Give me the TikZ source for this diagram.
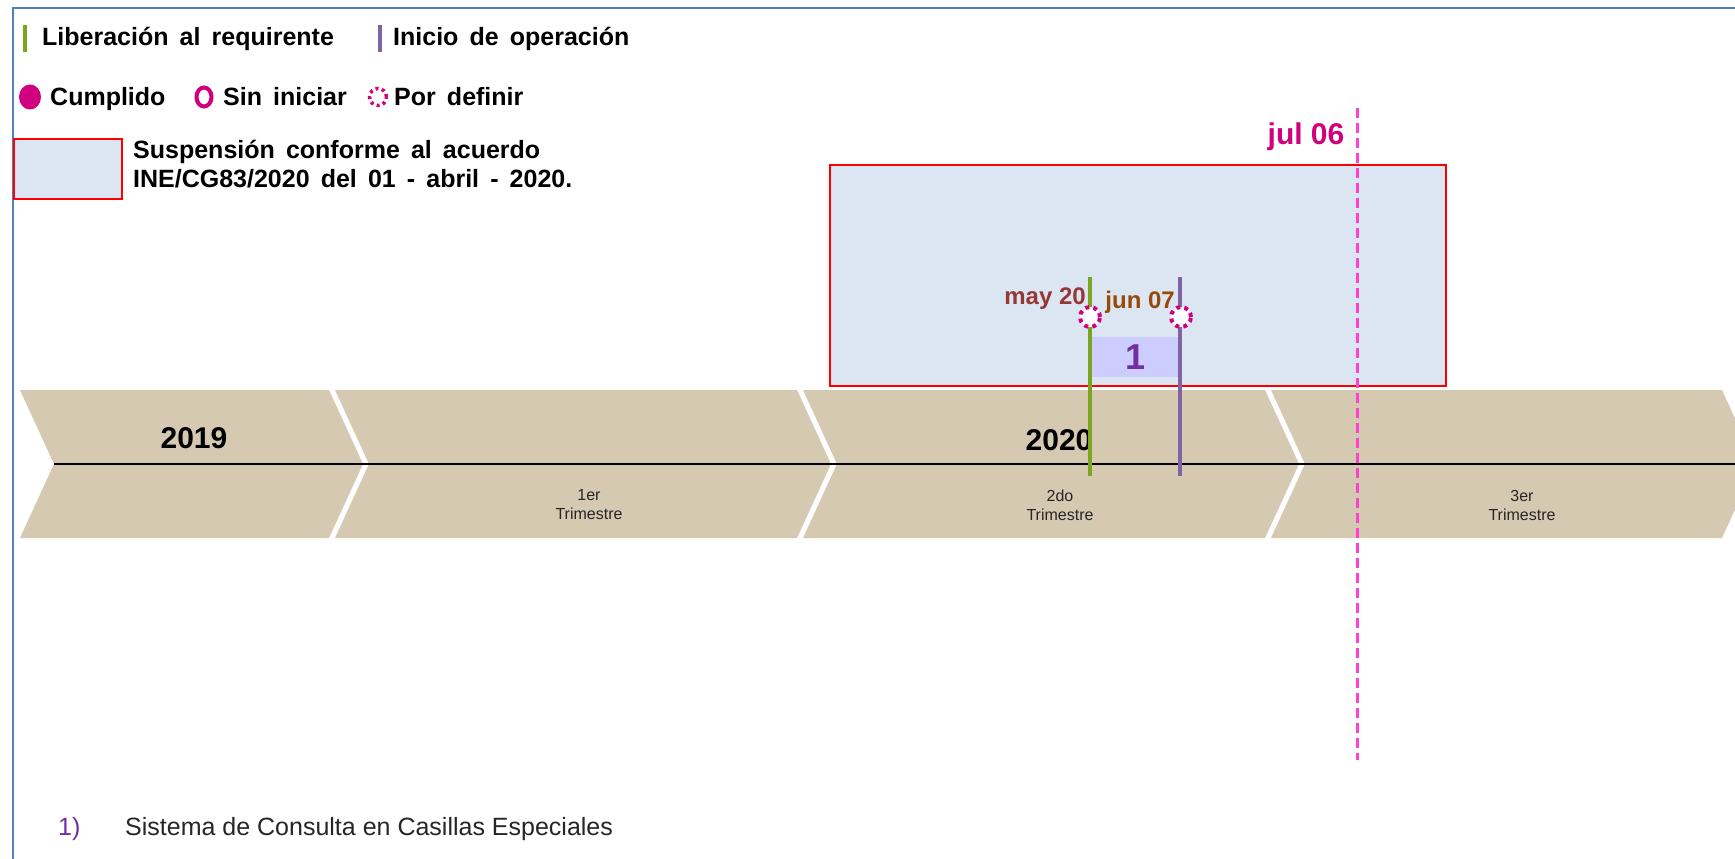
\documentclass[tikz,border=0pt]{standalone}
\usepackage{fontspec}
\setmainfont{Liberation Sans}
\newfontfamily\legendfont[WordSpace=1.6]{Liberation Sans}
\usetikzlibrary{positioning,shapes.geometric}

\definecolor{chevtan}{RGB}{214,201,178}
\definecolor{suspblue}{RGB}{220,230,242}
\definecolor{mag}{RGB}{208,0,126}
\definecolor{pinkdash}{RGB}{255,64,208}
\definecolor{libgreen}{RGB}{122,165,30}
\definecolor{opviolet}{RGB}{128,100,162}
\definecolor{maycol}{RGB}{149,55,53}
\definecolor{juncol}{RGB}{152,72,7}
\definecolor{numviolet}{RGB}{112,48,160}
\definecolor{numfill}{RGB}{204,204,255}
\definecolor{frameblue}{RGB}{79,129,189}

\tikzset{
  lbl/.style={font=\legendfont\bfseries\fontsize{25}{29}\selectfont, inner sep=0pt, anchor=west},
  yearlbl/.style={font=\bfseries\fontsize{30}{34}\selectfont, inner sep=0pt},
  qtrlbl/.style={font=\fontsize{16}{19}\selectfont, align=center, text=black!85, inner sep=0pt},
  datelbl/.style={font=\bfseries\fontsize{24}{28}\selectfont, inner sep=0pt},
  suspbox/.style={draw=red, fill=suspblue, line width=2pt, inner sep=0pt},
  pordefinir/.style={circle, draw=mag, fill=white, line width=4pt,
    dash pattern=on 4pt off 4.2pt, minimum size=20pt, inner sep=0pt},
  libline/.style={libgreen, line width=4pt},
  opline/.style={opviolet, line width=4pt},
}

\begin{document}
\begin{tikzpicture}[x=1pt,y=-1pt]
\useasboundingbox (0,0) rectangle (1735,859);
\clip (0,0) rectangle (1735,859);
\fill[white] (0,0) rectangle (1735,859);
\draw[frameblue, line width=2.5pt] (13,859) -- (13,8) -- (1735,8);

% leyenda
\draw[libline] (25,25) -- (25,52);
\node[lbl] (lib) at (42,39) {Liberación al requirente};
\draw[opline] (380,25) -- (380,52);
\node[lbl] (ini) at (393,39) {Inicio de operación};

\node[ellipse, fill=mag, minimum width=22pt, minimum height=25pt, inner sep=0pt] (cump) at (30,97) {};
\node[lbl, anchor=base west] (cumpt) at (50,106) {Cumplido};
\node[ellipse, draw=mag, line width=4pt, minimum width=15pt, minimum height=19pt, inner sep=0pt] (sinini) at (204,97) {};
\node[lbl, anchor=base west] (sininit) at (223,106) {Sin iniciar};
\node[pordefinir, minimum size=17pt, line width=3.5pt, dash pattern=on 3pt off 3.4pt] (pordef) at (378,97) {};
\node[lbl, anchor=base west] (pordeft) at (394,106) {Por definir};

\node[suspbox, line width=1.5pt, minimum width=108pt, minimum height=60pt] (suspley) at (68,169) {};
\node[lbl, align=left, anchor=west] (suspt) at (133,164)
  {Suspensión conforme al acuerdo\\INE/CG83/2020 del 01 - abril - 2020.};

% linea de tiempo
\foreach \a/\b in {20/329, 335/797, 803/1265, 1271/1722}
  \fill[chevtan] (\a,390) -- (\b,390) -- (\b+34,464) -- (\b,538) -- (\a,538) -- (\a+34,464) -- cycle;
\coordinate (t0) at (54,464);
\coordinate (t1) at (1735,464);
\draw[line width=2pt] (t0) -- (t1);

\node[yearlbl] (y2019) at (194,438) {2019};
\node[yearlbl] (y2020) at (1059,440) {2020};
\node[qtrlbl] (q1) at (589,505) {1er\\Trimestre};
\node[qtrlbl] (q2) at (1060,505) {2do\\Trimestre};
\node[qtrlbl] (q3) at (1522,505) {3er\\Trimestre};

% suspension
\node[suspbox, minimum width=616pt, minimum height=221pt] (susp) at (1138,275.5) {};
\node[fill=numfill, minimum width=86pt, minimum height=40pt, inner sep=0pt,
  font=\bfseries\fontsize{36}{40}\selectfont, text=numviolet] (n1) at (1135,357) {1};

\coordinate (g1) at (1090,277);
\coordinate (g2) at (1090,476);
\coordinate (p1) at (1180,277);
\coordinate (p2) at (1180,476);
\draw[libline] (g1) -- (g2);
\draw[opline] (p1) -- (p2);
\node[pordefinir] (may) at (1090,317) {};
\node[pordefinir] (jun) at (1181,317) {};
\node[datelbl, text=maycol, anchor=base east] (mayt) at (1086,304) {may 20};
\node[datelbl, text=juncol, anchor=base east] (junt) at (1175,308) {jun 07};

% corte
\node[font=\bfseries\fontsize{30}{34}\selectfont, text=mag, inner sep=0pt] (jult) at (1306,137) {jul 06};
\coordinate (jtop) at (1357,108);
\coordinate (jbot) at (1357,760);
\draw[pinkdash, line width=3pt, dash pattern=on 10pt off 5pt] (jtop) -- (jbot);

% nota
\node[font=\fontsize{25}{29}\selectfont, text=numviolet, inner sep=0pt, anchor=west] (nota1) at (58,829) {1)};
\node[font=\fontsize{25}{29}\selectfont, text=black!85, inner sep=0pt, anchor=west] (notat) at (125,829)
  {Sistema de Consulta en Casillas Especiales};
\end{tikzpicture}
\end{document}
